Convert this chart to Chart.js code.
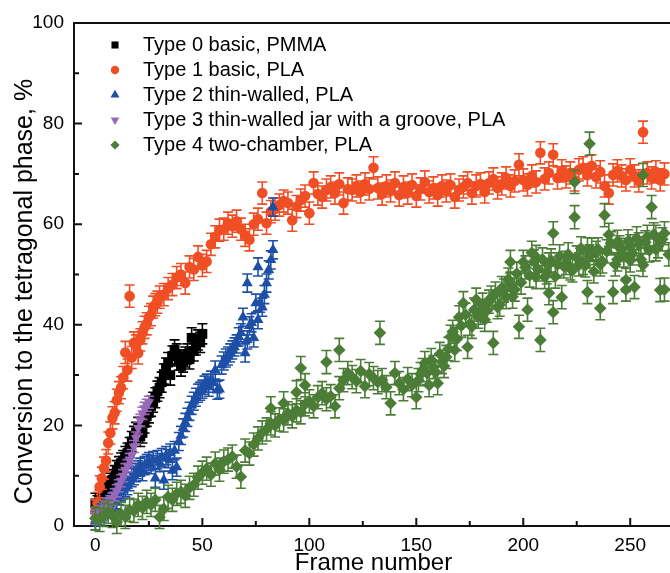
<!DOCTYPE html>
<html>
<head>
<meta charset="utf-8">
<script src="https://cdn.jsdelivr.net/npm/chart.js@4.4.1/dist/chart.umd.min.js"></script>
<style>
  html, body { margin: 0; padding: 0; overflow: hidden; background: #fff; }
  #wrap { width: 680px; height: 573px; }
</style>
</head>
<body>
<div id="wrap"><canvas id="chart"></canvas></div>
<script>
// Waarden (frame -> conversie in %)
const seriesLabels = [
  'Type 0 basic, PMMA',
  'Type 1 basic, PLA',
  'Type 2 thin-walled, PLA',
  'Type 3 thin-walled jar with a groove, PLA',
  'Type 4 two-chamber, PLA'
];
const seriesColors = ['#000000', '#F04E24', '#1D4FA6', '#9A68B8', '#4B7D36'];
const errHalf = [2.0, 2.2, 1.8, 1.2, 2.3];

const xTitle = 'Frame number';
const yTitle = 'Conversion to the tetragonal phase, %';
const xMajor = [0, 50, 100, 150, 200, 250];
const xMinor = [25, 75, 125, 175, 225];
const yMajor = [0, 20, 40, 60, 80, 100];
const yMinor = [10, 30, 50, 70, 90];

// Type 0
const t0X = [0,1,2,3,4,5,6,7,8,9,10,11,12,13,14,15,16,17,18,19,20,21,22,23,24,25,26,27,28,29,30,
  31,32,33,34,35,36,37,38,39,40,41,42,43,44,45,46,47,48,49,50];
const t0Y = [4.5,4.0,5.2,5.5,6.0,7.0,7.8,8.5,9.2,10.0,11.0,11.8,12.5,13.0,13.8,14.5,15.6,16.8,17.8,18.6,
  19.6,17.8,18.5,20.5,21.8,22.5,23.8,24.6,25.5,26.8,27.5,28.6,30.2,31.4,32.5,30.0,33.8,35.0,34.2,33.0,
  31.8,32.6,33.6,34.2,33.2,37.4,34.8,36.0,37.0,36.5,38.2];

// Type 1
const t1X = [0,1,2,3,4,5,6,7,8,9,10,11,12,13,14,15,16,17,18,19,20,21,22,23,24,25,26,27,28,29,30,
  32,34,36,38,40,42,44,46,48,50,52,54,56,58,60,62,64,66,68,70,72,74,76,78,80,82,84,86,88,90,
  92,94,96,98,100,102,104,106,108,110,112,114,116,118,120,122,124,126,128,130,
  132,134,136,138,140,142,144,146,148,150,152,154,156,158,160,162,164,166,168,170,
  172,174,176,178,180,182,184,186,188,190,192,194,196,198,200,202,204,206,208,210,
  212,214,216,218,220,222,224,226,228,230,232,234,236,238,240,242,244,246,248,250,
  252,254,256,258,260,262,264,266];
const t1Y = [3.0,4.5,7.8,9.5,11.5,13.0,16.5,18.5,21.5,22.5,25.0,26.5,27.5,29.5,34.5,31.0,45.7,33.5,36.4,35.8,
  34.4,37.0,38.4,39.5,40.2,41.5,42.0,43.5,44.0,44.5,45.5,
  46.0,47.2,48.0,49.4,50.0,48.3,51.5,51.0,53.5,51.8,
  52.6,56.0,57.5,58.8,59.0,60.2,59.6,60.6,59.0,57.8,
  56.9,60.0,61.0,66.2,60.2,62.5,63.0,63.8,64.6,64.2,
  60.8,63.5,64.8,65.6,62.2,68.2,66.0,65.4,66.8,67.4,
  66.2,68.0,64.2,67.0,66.8,67.6,66.4,68.0,67.0,71.2,
  67.2,66.0,67.6,66.6,68.2,65.8,67.4,66.2,67.8,65.6,
  67.0,68.4,66.4,67.2,65.8,67.6,66.6,67.8,65.4,66.8,
  67.4,68.2,66.2,67.6,68.0,66.4,68.2,69.0,67.2,68.0,
  69.2,67.6,68.6,71.8,68.8,67.8,69.6,68.4,74.2,69.0,
  70.2,73.8,69.2,70.6,69.4,70.2,68.8,70.8,71.2,69.8,
  71.6,69.4,70.4,67.6,66.2,69.8,70.6,69.6,68.8,70.8,
  69.6,68.6,78.3,70.2,69.2,70.4,68.8,70.0];

// Type 2
const t2X = [0,1,2,3,4,5,6,7,8,9,10,11,12,13,14,15,16,17,18,19,20,21,22,23,24,25,26,27,28,29,30,
  31,32,33,34,35,36,37,38,39,40,41,42,43,44,45,46,47,48,49,50,51,52,53,54,55,56,57,58,59,60,
  61,62,63,64,65,66,67,68,69,70,71,72,73,74,75,76,77,78,79,80,81,82,83, 71,76,83];
const t2Y = [1.0,1.8,2.0,2.6,3.0,3.4,3.8,4.2,4.6,5.0,5.2,6.0,6.8,7.2,7.6,8.0,8.8,9.6,10.0,10.6,
  11.2,11.7,10.8,12.0,12.4,12.8,12.2,13.0,9.5,13.2,12.6,13.6,9.1,14.0,13.4,14.5,11.0,15.0,11.7,16.8,
  18.0,19.5,20.6,21.6,22.8,24.0,24.8,25.6,26.4,26.8,27.2,28.0,28.4,27.6,29.0,28.4,31.0,27.0,27.2,32.0,
  32.8,33.4,33.8,34.4,35.0,35.6,36.2,37.6,38.4,41.5,34.4,37.0,39.8,40.4,37.4,44.3,41.0,44.3,43.5,46.0,
  48.3,50.9,52.9,54.9, 48.3,51.5,63.4];

// Type 3
const t3X = [0,1,2,3,4,5,6,7,8,9,10,11,12,13,14,15,16,17,18,19,20,21,22,23,24,25];
const t3Y = [1.5,2.0,2.4,2.8,3.4,3.8,4.4,4.8,5.4,6.2,7.0,8.0,9.0,10.0,11.2,12.0,13.2,14.0,15.8,17.5,
  19.5,21.0,22.4,23.4,24.0,24.6];

// Type 4 (even frames, losse uitschieters, daarna de oneven frames vanaf 151)
const t4X = [0,2,4,6,8,10,12,14,16,18,20,22,24,26,28,30,32,34,36,38,40,42,44,46,48,50,52,54,56,58,
  60,62,64,66,68,70,72,74,76,78,80,82,84,86,88,90,92,94,96,98,100,102,104,106,108,110,112,114,116,118,
  120,122,124,126,128,130,132,134,136,138,140,142,144,146,148,150,152,154,156,158,
  160,162,164,166,168,170,172,174,176,178,180,182,184,186,188,190,192,194,196,198,
  200,202,204,206,208,210,212,214,216,218,220,222,224,226,228,230,232,234,236,238,
  240,242,244,246,248,250,252,254,256,258,260,262,264,266,268,
  82,88,94,96,98,108,114,133,214,224,231,256,194,206,212,230,244,250,262,266,248,236,
  151,153,155,157,159,161,163,165,167,169,171,173,175,177,179,181,183,185,187,189,
  191,193,195,197,199,201,203,205,207,209,211,213,215,217,219,221,223,225,227,229,
  231,233,235,237,239,241,243,245,247,249,251,253,255,257,259,261,263,265];
const t4Y = [1.5,1.2,2.2,2.8,2.0,0.8,2.4,1.8,3.2,3.0,
  4.2,3.6,4.8,4.2,5.2,1.8,3.4,5.8,5.2,6.4,
  6.8,6.0,7.6,8.2,9.6,10.6,11.4,10.2,12.4,11.2,
  12.8,13.2,13.8,11.8,9.8,15.0,14.4,16.2,17.4,18.6,
  19.2,20.4,20.0,21.2,21.0,22.4,21.8,23.0,22.6,24.2,
  24.8,23.8,25.6,26.4,25.2,25.8,23.8,27.4,29.0,30.4,
  29.6,28.8,30.8,27.8,30.2,29.4,28.6,29.0,27.6,24.4,
  30.4,28.4,27.2,29.2,28.0,25.6,30.2,32.4,28.0,31.6,
  28.4,32.6,33.6,37.6,35.0,41.5,44.3,35.6,39.6,45.0,
  42.4,41.0,44.6,36.4,43.5,47.3,45.5,48.2,47.0,39.6,
  52.5,43.0,54.3,49.5,37.0,49.5,46.3,42.5,52.0,45.5,
  52.3,51.2,61.4,52.0,52.3,46.5,54.9,54.3,43.3,61.8,
  57.9,46.5,53.0,54.9,48.9,52.8,47.5,56.0,51.9,57.5,
  63.4,55.0,46.9,58.2,54.0,
  23.4,24.4,26.6,31.4,28.0,32.6,35.0,38.4,58.2,68.4,76.0,69.8,52.5,53.5,52.0,55.0,56.5,55.6,57.5,47.0,47.0,52.0,
  29.0,31.0,30.4,33.0,30.6,34.2,31.8,35.2,38.6,37.2,39.8,42.0,40.2,43.0,41.6,44.0,42.8,45.4,46.2,44.0,
  46.8,49.0,45.6,50.2,48.4,51.4,49.8,52.6,51.0,53.0,50.4,52.8,49.6,53.6,51.6,54.0,50.8,53.4,55.2,51.8,
  53.6,50.6,55.0,52.6,54.6,56.2,52.0,55.4,53.8,56.6,54.2,57.2,53.0,56.4,54.8,58.0,55.6,57.0];

const FONT = "'Liberation Sans', Arial, sans-serif";
const pts = (xs, ys) => xs.map((x, i) => ({ x, y: ys[i] }));

// --- Foutbalken: onder de markers van dezelfde reeks ---
const errorBars = {
  id: 'errorBars',
  beforeDatasetDraw(chart, args) {
    const ds = chart.data.datasets[args.index];
    const ys = chart.scales.y;
    const ctx = chart.ctx;
    ctx.save();
    ctx.strokeStyle = ds.borderColor;
    ctx.lineWidth = 1.6;
    ctx.beginPath();
    args.meta.data.forEach((pt, i) => {
      const v = ds.data[i].y;
      const top = ys.getPixelForValue(v + ds.errHalf);
      const bot = ys.getPixelForValue(v - ds.errHalf);
      ctx.moveTo(pt.x, top); ctx.lineTo(pt.x, bot);
      ctx.moveTo(pt.x - 5, top); ctx.lineTo(pt.x + 5, top);
      ctx.moveTo(pt.x - 5, bot); ctx.lineTo(pt.x + 5, bot);
    });
    ctx.stroke();
    ctx.restore();
  }
};

// --- Kader, naar binnen wijzende tickstreepjes en de y-astitel ---
const frameTicks = {
  id: 'frameTicks',
  beforeDatasetsDraw(chart) {
    const { ctx, chartArea: a, scales: { x, y } } = chart;
    ctx.save();
    ctx.strokeStyle = '#111';
    ctx.lineWidth = 2;
    ctx.strokeRect(a.left, a.top, a.right - a.left, a.bottom - a.top);
    ctx.beginPath();
    const xt = (v, len) => { const p = x.getPixelForValue(v); ctx.moveTo(p, a.bottom); ctx.lineTo(p, a.bottom - len); };
    const yt = (v, len) => { const p = y.getPixelForValue(v); ctx.moveTo(a.left, p); ctx.lineTo(a.left + len, p); };
    xMajor.forEach(v => xt(v, 8)); xMinor.forEach(v => xt(v, 5));
    yMajor.forEach(v => yt(v, 8)); yMinor.forEach(v => yt(v, 5));
    ctx.stroke();

    // y-titel iets onder het midden, zoals in het origineel
    ctx.translate(25, (a.top + a.bottom) / 2 + 17);
    ctx.rotate(-Math.PI / 2);
    ctx.font = '25px ' + FONT;
    ctx.fillStyle = '#000';
    ctx.textAlign = 'center';
    ctx.textBaseline = 'middle';
    ctx.fillText(yTitle, 0, 0);
    ctx.restore();
  }
};

// --- Legenda linksboven in het plotvlak ---
const legendRadius = [5, 4.2, 5.2, 5, 4.6];
const insideLegend = {
  id: 'insideLegend',
  afterDatasetsDraw(chart) {
    const { ctx, chartArea: a } = chart;
    ctx.save();
    ctx.font = '20px ' + FONT;
    ctx.textBaseline = 'middle';
    chart.data.datasets.forEach((ds, i) => {
      const cy = a.top + 22 + i * 25;
      ctx.fillStyle = ds.backgroundColor;
      Chart.helpers.drawPoint(ctx, { pointStyle: ds.pointStyle, rotation: ds.pointRotation || 0, radius: legendRadius[i], borderWidth: 0 }, a.left + 41, cy);
      ctx.fillStyle = '#000';
      ctx.fillText(ds.label, a.left + 69, cy);
    });
    ctx.restore();
  }
};

const mk = (i, data, style, radius, order, rot) => ({
  label: seriesLabels[i], data, errHalf: errHalf[i],
  backgroundColor: seriesColors[i], borderColor: seriesColors[i],
  pointStyle: style, pointRadius: radius, pointBorderWidth: 0, pointRotation: rot || 0,
  showLine: false, order, clip: false
});

new Chart(document.getElementById('chart'), {
  type: 'scatter',
  data: {
    datasets: [
      mk(0, pts(t0X, t0Y), 'rect', 7, 4),
      mk(1, pts(t1X, t1Y), 'circle', 5.3, 3),
      mk(2, pts(t2X, t2Y), 'triangle', 6.4, 2),
      mk(3, pts(t3X, t3Y), 'triangle', 6, 1, 180),
      mk(4, pts(t4X, t4Y), 'rectRot', 6.3, 0)
    ]
  },
  options: {
    responsive: true,
    maintainAspectRatio: false,
    animation: false,
    events: [],
    layout: { padding: { left: 0, right: 2, top: 23, bottom: 0 } },
    plugins: { legend: { display: false }, tooltip: { enabled: false } },
    scales: {
      x: {
        type: 'linear', min: -10, max: 270,
        grid: { display: false, drawTicks: false }, border: { display: false },
        afterBuildTicks: s => { s.ticks = xMajor.map(v => ({ value: v })); },
        afterFit: s => { s.height = 47; },
        ticks: { font: { family: FONT, size: 19 }, color: '#000', padding: 8, maxRotation: 0 },
        title: { display: true, text: xTitle, color: '#000', font: { family: FONT, size: 24, lineHeight: 0.8 }, padding: 0 }
      },
      y: {
        type: 'linear', min: 0, max: 100,
        grid: { display: false, drawTicks: false }, border: { display: false },
        afterBuildTicks: s => { s.ticks = yMajor.map(v => ({ value: v })); },
        afterFit: s => { s.width = 74; },
        ticks: { font: { family: FONT, size: 19 }, color: '#000', padding: 10 },
        title: { display: false }
      }
    }
  },
  plugins: [errorBars, frameTicks, insideLegend]
});
</script>
</body>
</html>
